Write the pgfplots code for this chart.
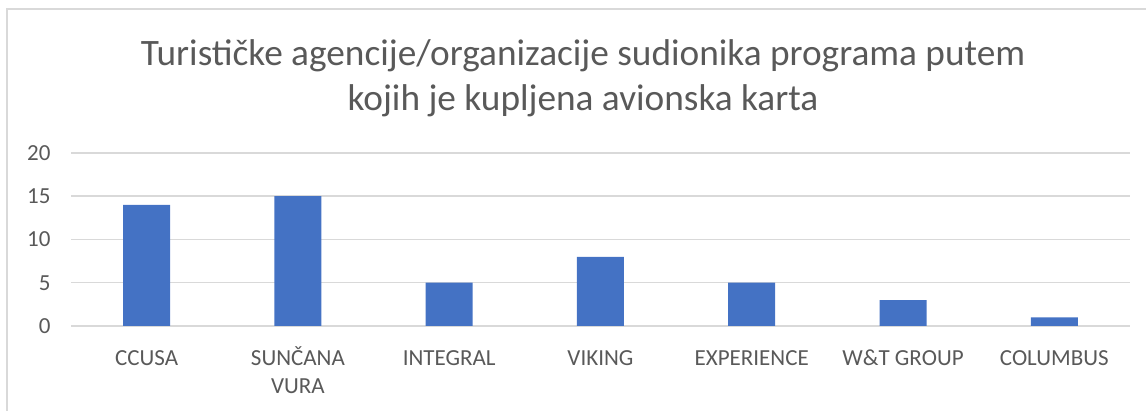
\documentclass[border=0pt]{standalone}
\usepackage{pgfplots}
\pgfplotsset{compat=1.18}
\usepackage{fontspec}
\setmainfont{Carlito}
\definecolor{barblue}{HTML}{4472C4}
\definecolor{txtgray}{HTML}{595959}
\definecolor{gridgray}{HTML}{D9D9D9}
\newcommand\sx{\rule{0pt}{20pt}}
\begin{document}
\begin{tikzpicture}[x=1pt,y=1pt]
\path[use as bounding box] (0,0) rectangle (1146,411);
\draw[gridgray, line width=1.5pt] (7,0) -- (7,402) -- (1146,402);
\node[txtgray, align=center, font=\fontsize{37.3}{45}\selectfont, anchor=base] at (583,345) {Turističke agencije/organizacije sudionika programa putem};
\node[txtgray, align=center, font=\fontsize{37.3}{45}\selectfont, anchor=base] at (583,300) {kojih je kupljena avionska karta};
\begin{axis}[
  at={(71pt,85pt)}, anchor=south west,
  scale only axis, width=1059pt, height=173pt,
  ybar, bar width=47pt,
  xmin=-0.5, xmax=6.5, ymin=0, ymax=20,
  ytick={0,5,10,15,20},
  xtick=data,
  xticklabels={\sx CCUSA,{\sx SUNČANA\\VURA},\sx INTEGRAL,\sx VIKING,\sx EXPERIENCE,\sx W\&T GROUP,\sx COLUMBUS},
  axis line style={draw=none},
  axis x line*=bottom,
  x axis line style={draw=gridgray, line width=1.5pt},
  major tick length=0pt,
  ymajorgrids, grid style={gridgray, line width=1.5pt},
  tick label style={txtgray, font=\fontsize{23}{28}\selectfont},
  xticklabel style={align=center, yshift=-15.7pt},
  yticklabel style={xshift=-17pt},
  /pgf/number format/assume math mode=true,
  clip=false,
]
\addplot[fill=barblue, draw=none] coordinates {(0,14) (1,15) (2,5) (3,8) (4,5) (5,3) (6,1)};
\end{axis}
\end{tikzpicture}
\end{document}
